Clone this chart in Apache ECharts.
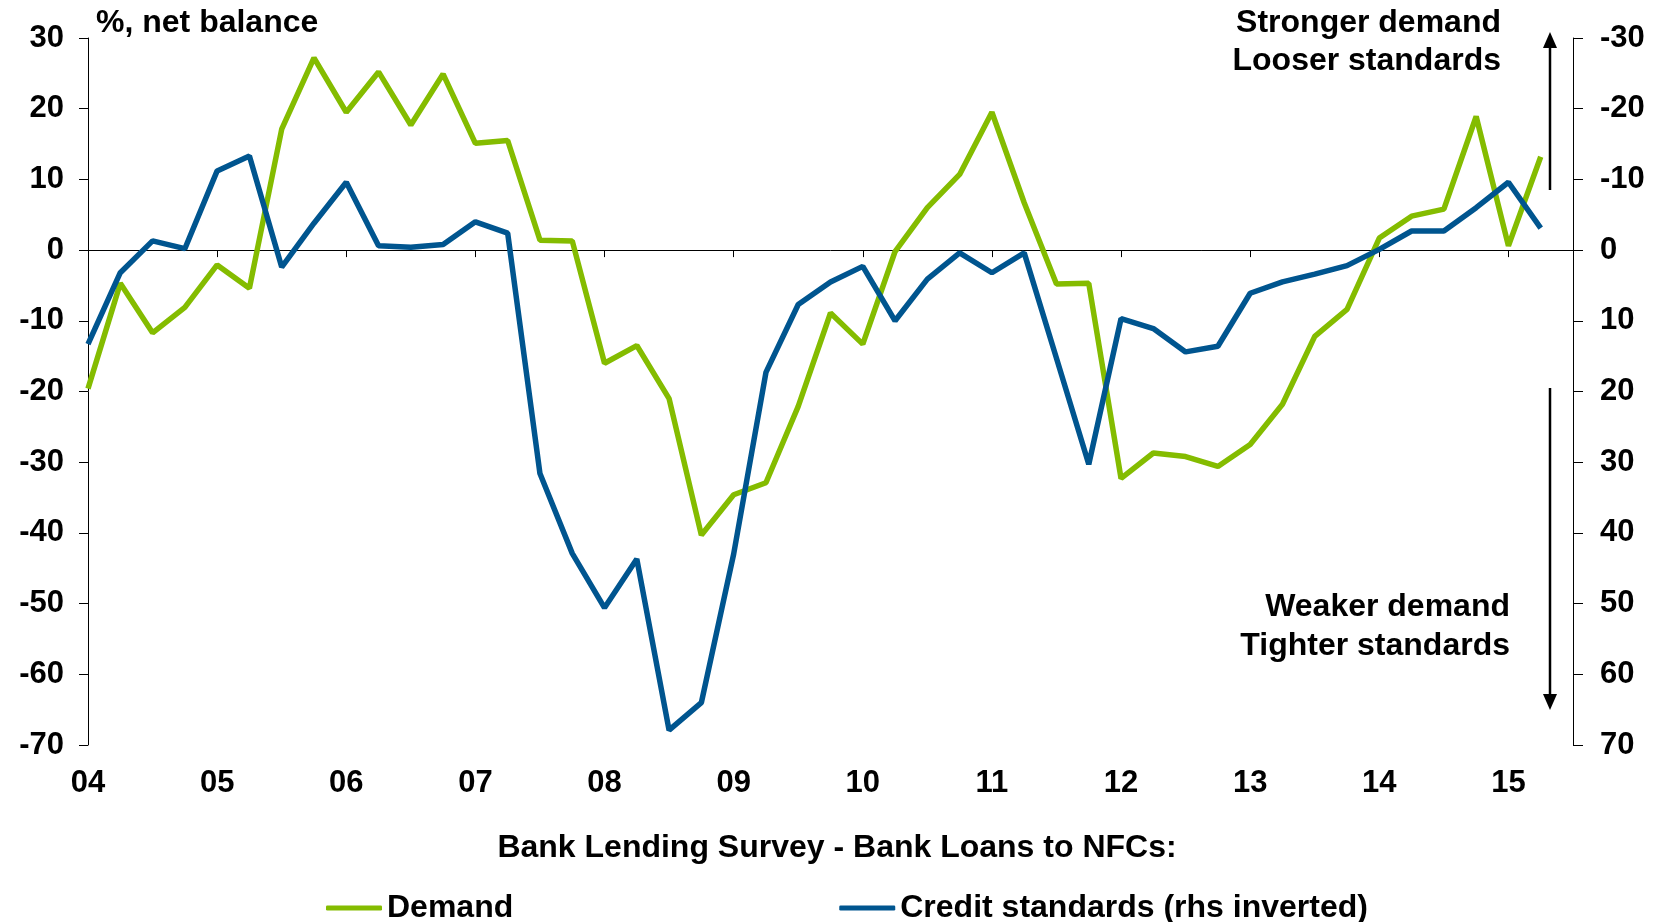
<!DOCTYPE html>
<html>
<head>
<meta charset="utf-8">
<script src="https://cdn.jsdelivr.net/npm/echarts@6/dist/echarts.min.js"></script>
<style>
  html, body { margin: 0; padding: 0; background: #fff; }
  #chart { width: 1661px; height: 922px; }
</style>
</head>
<body>
<div id="chart"></div>
<script>
// Bank Lending Survey, bank loans to NFCs, quarterly 2004Q1 - 2015Q2
const yearLabels = ['04', '05', '06', '07', '08', '09', '10', '11', '12', '13', '14', '15'];

// Demand, % net balance (left axis)
const demand = [
  -19.6, -4.7, -11.7, -8.1,
  -2.1, -5.4, 17.1, 27.2,
  19.5, 25.2, 17.7, 24.9,
  15.1, 15.5, 1.4, 1.3,
  -16.0, -13.5, -21.0, -40.3,
  -34.6, -32.9, -22.1, -8.9,
  -13.3, -0.2, 6.0, 10.7,
  19.5, 6.7, -4.8, -4.7,
  -32.3, -28.7, -29.2, -30.6,
  -27.5, -21.8, -12.2, -8.4,
  1.7, 4.8, 5.8, 18.9,
  0.6, 13.2
];

// Credit standards, % net balance (right axis, inverted)
const standards = [
  13.3, 3.2, -1.3, -0.2,
  -11.2, -13.3, 2.4, -3.8,
  -9.6, -0.6, -0.4, -0.8,
  -4.0, -2.4, 31.6, 42.9,
  50.6, 43.7, 67.9, 64.0,
  43.0, 17.3, 7.7, 4.5,
  2.3, 10.0, 4.1, 0.4,
  3.2, 0.4, 15.3, 30.3,
  9.7, 11.1, 14.4, 13.6,
  6.1, 4.5, 3.4, 2.2,
  -0.1, -2.7, -2.7, -6.0,
  -9.6, -3.1
];

const GREEN = '#84bc00';
const BLUE = '#00558f';
const FONT = '"Liberation Sans", Arial, Helvetica, sans-serif';

const chart = echarts.init(document.getElementById('chart'), null, { renderer: 'canvas' });

const axisText = { fontFamily: FONT, fontWeight: 'bold', fontSize: 31, color: '#000' };
const annText = { fontFamily: FONT, fontWeight: 'bold', fontSize: 32, fill: '#000' };

function arrow(x, yTail, yTip) {
  const dir = yTip < yTail ? -1 : 1;
  return [
    { type: 'line', shape: { x1: x, y1: yTail, x2: x, y2: yTip - dir * 12 },
      style: { stroke: '#000', lineWidth: 2.5 } },
    { type: 'polygon', shape: { points: [[x, yTip], [x - 7, yTip - dir * 16], [x + 7, yTip - dir * 16]] },
      style: { fill: '#000' } }
  ];
}

const option = {
  animation: false,
  backgroundColor: '#fff',
  grid: { left: 88, right: 88, top: 38, bottom: 177, containLabel: false },
  xAxis: [
    {
      type: 'value', min: 0, max: 46, interval: 4,
      position: 'bottom',
      axisLine: { show: true, onZero: true, lineStyle: { color: '#000', width: 1 } },
      axisTick: { show: true, length: 7, lineStyle: { color: '#000', width: 1 } },
      axisLabel: { show: false },
      splitLine: { show: false }
    },
    {
      type: 'value', min: 0, max: 46, interval: 4,
      position: 'bottom',
      axisLine: { show: false, onZero: false },
      axisTick: { show: false },
      axisLabel: Object.assign({
        margin: 23, showMaxLabel: false,
        formatter: v => (v % 4 === 0 && yearLabels[v / 4]) ? yearLabels[v / 4] : ''
      }, axisText),
      splitLine: { show: false }
    }
  ],
  yAxis: [
    {
      type: 'value', min: -70, max: 30, interval: 10,
      position: 'left',
      axisLine: { show: true, onZero: false, lineStyle: { color: '#000', width: 1 } },
      axisTick: { show: true, length: 9, lineStyle: { color: '#000', width: 1 } },
      axisLabel: Object.assign({ margin: 24 }, axisText),
      splitLine: { show: false }
    },
    {
      type: 'value', min: -30, max: 70, interval: 10, inverse: true,
      position: 'right',
      axisLine: { show: true, onZero: false, lineStyle: { color: '#000', width: 1 } },
      axisTick: { show: true, length: 10, lineStyle: { color: '#000', width: 1 } },
      axisLabel: Object.assign({ margin: 27 }, axisText),
      splitLine: { show: false }
    }
  ],
  legend: {
    left: 326, top: 892, padding: 0,
    itemGap: 326,
    itemWidth: 56, itemHeight: 5,
    icon: 'roundRect',
    textStyle: { fontFamily: FONT, fontWeight: 'bold', fontSize: 32, color: '#000' },
    data: ['Demand', 'Credit standards (rhs inverted)']
  },
  series: [
    {
      name: 'Demand', type: 'line', xAxisIndex: 0, yAxisIndex: 0,
      data: demand.map((v, i) => [i, v]),
      showSymbol: false, symbol: 'none',
      lineStyle: { color: GREEN, width: 5.5 },
      itemStyle: { color: GREEN }
    },
    {
      name: 'Credit standards (rhs inverted)', type: 'line', xAxisIndex: 0, yAxisIndex: 1,
      data: standards.map((v, i) => [i, v]),
      showSymbol: false, symbol: 'none',
      lineStyle: { color: BLUE, width: 5.5 },
      itemStyle: { color: BLUE }
    }
  ],
  graphic: [
    { type: 'text', x: 96, y: 23,
      style: Object.assign({ text: '%, net balance', align: 'left', verticalAlign: 'middle' }, annText) },
    { type: 'text', x: 1501, y: 23,
      style: Object.assign({ text: 'Stronger demand', align: 'right', verticalAlign: 'middle' }, annText) },
    { type: 'text', x: 1501, y: 61,
      style: Object.assign({ text: 'Looser standards', align: 'right', verticalAlign: 'middle' }, annText) },
    { type: 'text', x: 1510, y: 607,
      style: Object.assign({ text: 'Weaker demand', align: 'right', verticalAlign: 'middle' }, annText) },
    { type: 'text', x: 1510, y: 646,
      style: Object.assign({ text: 'Tighter standards', align: 'right', verticalAlign: 'middle' }, annText) },
    { type: 'text', x: 837, y: 848,
      style: Object.assign({ text: 'Bank Lending Survey - Bank Loans to NFCs:', align: 'center', verticalAlign: 'middle' }, annText) }
  ].concat(arrow(1550, 190, 32), arrow(1550, 388, 710))
};

chart.setOption(option);
</script>
</body>
</html>
